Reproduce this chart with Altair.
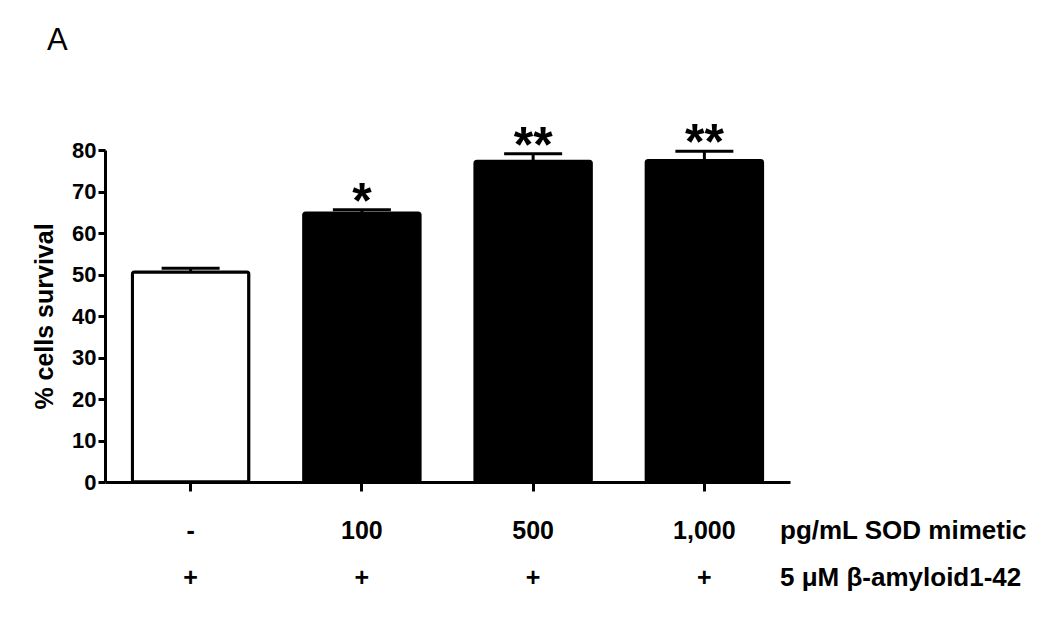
import altair as alt
import pandas as pd

groups = ["g0", "g1", "g2", "g3"]
dose_labels = ["-", "100", "500", "1,000"]
amyloid_labels = ["+", "+", "+", "+"]
means = [50.6, 64.8, 77.3, 77.5]
errs = [0.9, 0.8, 1.8, 2.2]
stars = ["", "*", "**", "**"]
fills = ["white", "black", "black", "black"]

df = pd.DataFrame({
    "group": groups,
    "dose": dose_labels,
    "amy": amyloid_labels,
    "mean": means,
    "upper": [m + e for m, e in zip(means, errs)],
    "star": stars,
    "fill": fills,
})

FONT = "Liberation Sans"
W, H = 685, 332

xenc = alt.X("group:N", sort=groups,
             scale=alt.Scale(paddingInner=0.32, paddingOuter=0.16),
             axis=alt.Axis(title=None, labels=False))
yenc = alt.Y("mean:Q", scale=alt.Scale(domain=[0, 80], nice=False),
             axis=alt.Axis(title="% cells survival", values=list(range(0, 81, 10)), grid=False))

base = alt.Chart(df)

bars = base.mark_bar(stroke="black", strokeWidth=3, cornerRadius=2).encode(
    x=xenc, y=yenc, fill=alt.Fill("fill:N", scale=None))

err_rule = base.mark_rule(color="black", strokeWidth=3, opacity=1).encode(
    x=xenc, y="mean:Q", y2="upper:Q")

err_cap = base.mark_tick(color="black", thickness=3, size=58, opacity=1).encode(
    x=xenc, y="upper:Q")

star_txt = base.mark_text(font=FONT, fontSize=50, fontWeight="bold",
                          baseline="alphabetic", dy=8, color="black").encode(
    x=xenc, y="upper:Q", text="star:N")

dose_txt = base.mark_text(font=FONT, fontSize=25, fontWeight="bold",
                          baseline="middle", color="black").encode(
    x=xenc, y=alt.value(381), text="dose:N")

amy_txt = base.mark_text(font=FONT, fontSize=25, fontWeight="bold",
                         baseline="middle", color="black").encode(
    x=xenc, y=alt.value(428), text="amy:N")

right_df = pd.DataFrame({"t": ["pg/mL SOD mimetic", "5 \u03bcM \u03b2-amyloid1-42"],
                         "yy": [381, 428]})
right_txt = alt.Chart(right_df).mark_text(font=FONT, fontSize=26, fontWeight="bold",
                                          align="left", baseline="middle",
                                          color="black").encode(
    x=alt.value(675), y=alt.Y("yy:Q", scale=None), text="t:N")

panel_df = pd.DataFrame({"t": ["A"]})
panel_txt = alt.Chart(panel_df).mark_text(font=FONT, fontSize=31, align="left",
                                          baseline="alphabetic", color="black").encode(
    x=alt.value(-58), y=alt.value(-100), text="t:N")

chart = alt.layer(bars, err_rule, err_cap, star_txt, dose_txt, amy_txt,
                  right_txt, panel_txt).properties(
    width=W, height=H,
    background="white",
    autosize=alt.AutoSizeParams(type="none"),
    padding={"left": 97, "top": 142, "right": 252, "bottom": 137},
).configure_view(
    stroke="transparent"
).configure_axis(
    domainWidth=3, domainColor="black", tickWidth=3, tickColor="black",
    grid=False, labelFont=FONT, labelColor="black", titleFont=FONT, titleColor="black",
).configure_axisX(
    tickSize=9, labels=False
).configure_axisY(
    tickSize=7, labelFontSize=22, labelFontWeight="bold", labelPadding=2,
    titleFontSize=25, titleFontWeight="bold", titlePadding=14
)

chart.save("out.html", embed_options={"renderer": "svg", "actions": False})
